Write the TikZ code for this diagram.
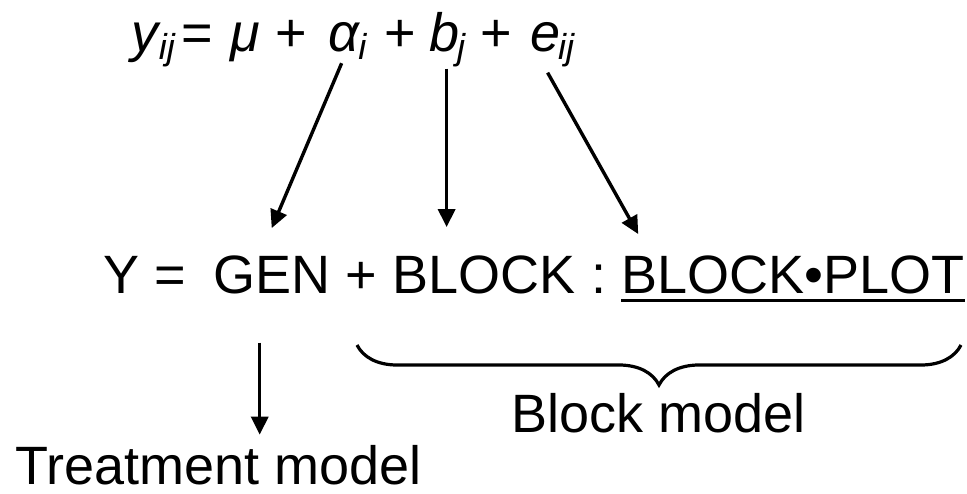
\documentclass[tikz,border=0pt]{standalone}
\usepackage{fontspec}
\setmainfont{Liberation Sans}
\usetikzlibrary{arrows.meta, positioning, calc, decorations.pathreplacing}

\newcommand{\subidx}[1]{\kern-2pt\raisebox{-8pt}{\fontsize{36}{36}\selectfont\textit{#1}}}

\begin{document}
\begin{tikzpicture}[
    x=1pt, y=-1pt,
    every node/.style={font=\fontsize{54}{64}\selectfont, inner sep=0pt, anchor=base west},
    arr/.style={-{Triangle[length=18pt, width=17pt]}, line width=3.4pt},
    brc/.style={decorate, decoration={brace, mirror, amplitude=40pt}, line width=3.2pt},
]
    \useasboundingbox (0,0) rectangle (967,493);

    % top equation
    \node (yterm) at (131,51) {\textit{y}\subidx{ij}};
    \node (eqs) at (181,51) {=};
    \node (mu) at (230,51) {\textit{μ}};
    \node (p1) at (275,51) {+};
    \node (alpha) at (328,51) {\textit{α}\subidx{i}};
    \node (p2) at (384,51) {+};
    \node (bterm) at (429,51) {\textit{b}\subidx{j}};
    \node (p3) at (480,51) {+};
    \node (eterm) at (530,51) {\textit{e}\subidx{ij}};

    % model line
    \node (ylhs) at (103,293) {Y =};
    \node (gen) at (213,293) {GEN};
    \node (plus) at (gen.base east) {\ +\ \null};
    \node (blk) at (plus.base east) {BLOCK};
    \node (colon) at (blk.base east) {\ :\ \null};
    \node (bp) at (colon.base east) {BLOCK•PLOT};
    \draw[line width=3pt] ([yshift=-7pt]bp.base west) -- ([yshift=-7pt]bp.base east);

    \draw[arr] ($(alpha.south)+(-6,4)$) -- ($(gen.north)+(0,-27)$);
    \draw[arr] ($(bterm.south)+(-1,2)$) -- ($(bterm.south |- blk.north)+(-1,-28)$);
    \draw[arr] ($(eterm.south)+(-5,6)$) -- ($(bp.north west)+(17,-21)$);

    % brace and labels
    \coordinate (bl) at (357,345);
    \coordinate (br) at (961,345);
    \draw[brc] (bl) -- (br);
    \coordinate (btip) at ($(bl)!0.5!(br)+(0,40)$);
    \node[anchor=base] (blockm) at ($(btip)+(0,47)$) {Block model};

    \node (treat) at (15,484) {Treatment model};
    \draw[arr] ($(gen.south)+(-12,49)$) -- ($(gen.south |- treat.north)+(-12,-10)$);
\end{tikzpicture}
\end{document}
